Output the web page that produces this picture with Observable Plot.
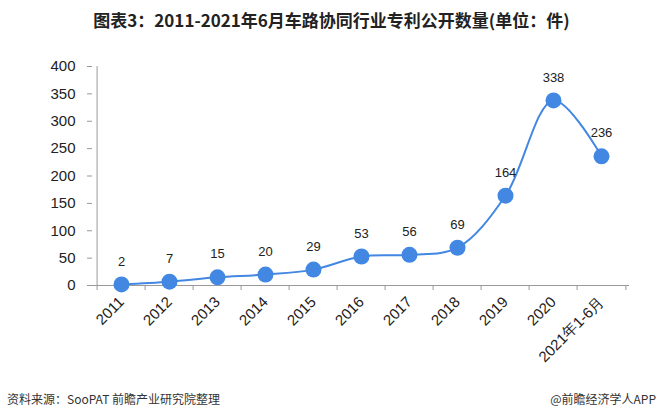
<!DOCTYPE html>
<html><head><meta charset="utf-8">
<script src="https://cdn.jsdelivr.net/npm/d3@7"></script>
<script src="https://cdn.jsdelivr.net/npm/@observablehq/plot@0.6"></script>
<style>
body{margin:0;background:#fff;}
#wrap{position:relative;width:663px;height:420px;background:#fff;overflow:hidden;font-family:"Liberation Sans",Arial,sans-serif;}
#title{position:absolute;top:7px;left:0;width:663px;text-align:center;font-family:"Noto Sans CJK SC",sans-serif;font-weight:bold;font-size:17px;color:#222;}
#chart{position:absolute;top:45px;left:0;}
#src{position:absolute;left:7px;top:390px;font-family:"Noto Sans CJK SC",sans-serif;font-size:12px;color:#333;}
#app{position:absolute;right:7px;top:390px;font-family:"Noto Sans CJK SC",sans-serif;font-size:12px;color:#333;}
</style></head>
<body><div id="wrap">
<div id="title">图表3：2011-2021年6月车路协同行业专利公开数量(单位：件)</div>
<div id="chart"></div>
<div id="src">资料来源：SooPAT 前瞻产业研究院整理</div>
<div id="app">@前瞻经济学人APP</div>
</div>
<script>
const years = ["2011","2012","2013","2014","2015","2016","2017","2018","2019","2020","2021年1-6月"];
const counts = [2,7,15,20,29,53,56,69,164,338,236];
const yTicks = [0,50,100,150,200,250,300,350,400];
const data = years.map((y,i)=>({year:y, value:counts[i]}));
const color = "#4287e2";
const W = 663, H = 345, mL = 92, mR = 34;
const half = (W - mL - mR) / years.length / 2;
const plot = Plot.plot({
  width: W, height: H,
  marginLeft: mL, marginRight: mR, marginTop: 21, marginBottom: 105,
  style: {fontFamily: "'Liberation Sans', Arial, sans-serif", fontSize: "15px", color: "#222", background: "transparent"},
  x: {type: "point", domain: years, padding: 0.5},
  y: {domain: [0, 400]},
  marks: [
    Plot.ruleY([0], {stroke: "#999"}),
    Plot.ruleX([years[0]], {dx: -half, y1: 0, y2: 400, stroke: "#999"}),
    Plot.axisY({ticks: yTicks, tickSize: 5, tickPadding: 12, stroke: "#999", fontSize: 15, label: null}),
    Plot.axisX({tickSize: 5, dx: -half, text: null, stroke: "#999", label: null}),
    Plot.axisX([years[years.length-1]], {tickSize: 5, dx: half, text: null, stroke: "#999", label: null}),
    Plot.axisX({tickSize: 0, tickRotate: -45, tickPadding: 14, fontSize: 15, label: null}),
    Plot.line(data, {x: "year", y: "value", stroke: color, strokeWidth: 2, curve: "catmull-rom"}),
    Plot.dot(data, {x: "year", y: "value", r: 8, fill: color, stroke: null}),
    Plot.text(data, {x: "year", y: "value", text: d => String(d.value), dy: -23, fontSize: 13, fill: "#222"})
  ]
});
document.getElementById("chart").appendChild(plot);
</script>
</body></html>
